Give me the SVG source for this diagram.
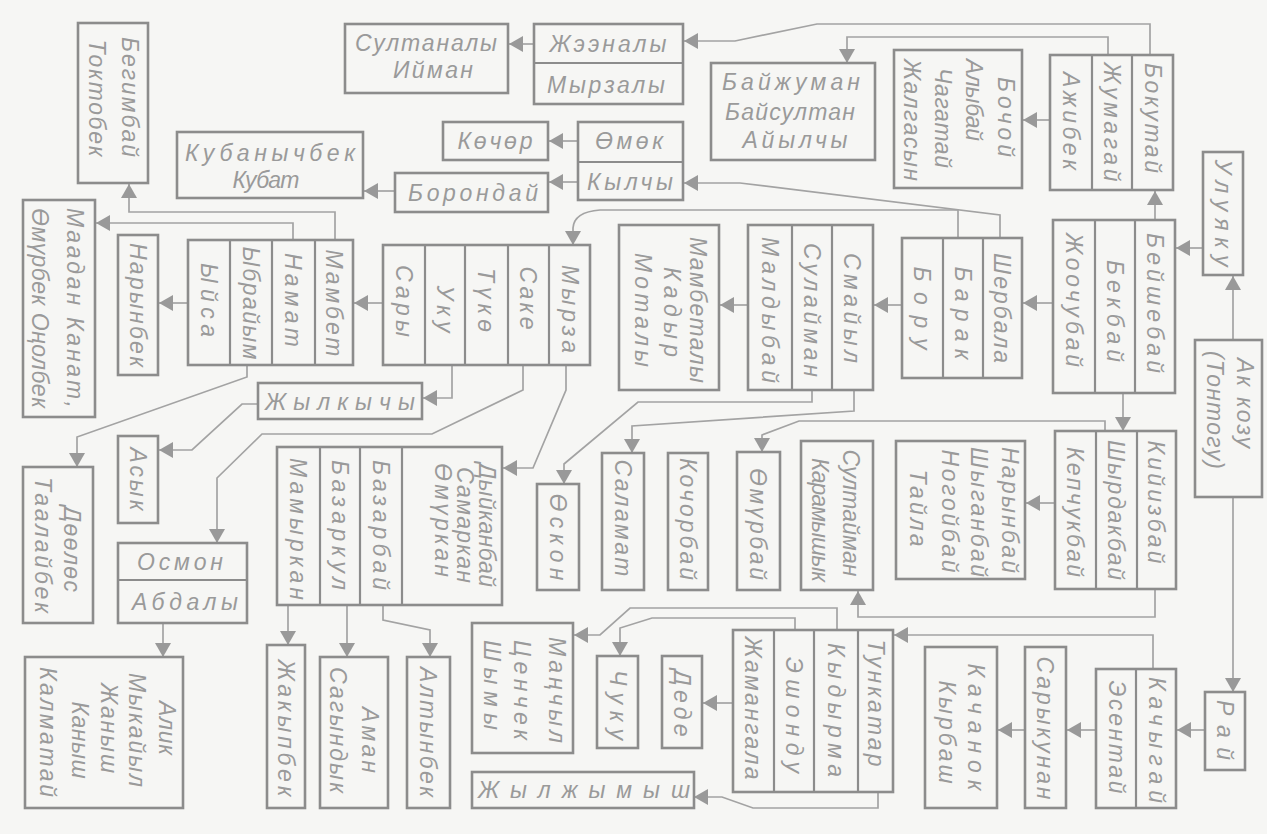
<svg xmlns="http://www.w3.org/2000/svg" width="1267" height="834" viewBox="0 0 1267 834">
<defs>
<marker id="ar" viewBox="0 0 14 16" refX="14" refY="8" markerWidth="14" markerHeight="16" markerUnits="userSpaceOnUse" orient="auto"><path d="M0,0L14,8L0,16z" fill="#999"/></marker>
<style>
.b{fill:none;stroke:#8c8c8c;stroke-width:2.6}
.d{fill:none;stroke:#8c8c8c;stroke-width:2.2}
.c{fill:none;stroke:#a3a3a3;stroke-width:1.7;marker-end:url(#ar)}
text{font-family:"Liberation Sans",Arial,sans-serif;font-style:italic;fill:#9a9a9a;font-size:23px;text-anchor:middle;dominant-baseline:central}
.h{font-size:23px}
</style>
</defs>
<rect width="1267" height="834" fill="#f6f6f4"/>
<g id="connectors">
<path class="c" d="M335,240V212H129V184"/>
<path class="c" d="M293,240V223H96"/>
<path class="c" d="M188,303H159"/>
<path class="c" d="M383,303H354"/>
<path class="c" d="M452,365V398H423"/>
<path class="c" d="M247,365V377L77,437V467"/>
<path class="c" d="M258,404H242L192,450H159"/>
<path class="c" d="M523,365V390L432,434H262L217,478V543"/>
<path class="c" d="M566,365V390L533,468H503"/>
<path class="c" d="M163,623V657"/>
<path class="c" d="M288,605V645"/>
<path class="c" d="M347,605V657"/>
<path class="c" d="M383,605V620L430,630V657"/>
<path class="c" d="M878,792V808H753L722,797H694"/>
<path class="c" d="M837,630V608H630L600,635H574"/>
<path class="c" d="M795,630V618H652L620,628V656"/>
<path class="c" d="M733,703H703"/>
<path class="c" d="M1155,589V617H858V591"/>
<path class="c" d="M1153,669V635H894"/>
<path class="c" d="M1233,497V692"/>
<path class="c" d="M1233,340V276"/>
<path class="c" d="M1203,248H1176"/>
<path class="c" d="M1155,220V191"/>
<path class="c" d="M1123,393V431"/>
<path class="c" d="M1205,730H1177"/>
<path class="c" d="M1096,730H1067"/>
<path class="c" d="M1025,730H998"/>
<path class="c" d="M1055,503H1026"/>
<path class="c" d="M1105,431V421H799L762,435V452"/>
<path class="c" d="M854,390V411L632,426V453"/>
<path class="c" d="M812,390V402H638L564,464V484"/>
<path class="c" d="M1053,303H1023"/>
<path class="c" d="M902,305H874"/>
<path class="c" d="M748,305H720"/>
<path class="c" d="M1000,238V215L740,183H684"/>
<path class="c" d="M958,238V210H600Q574,212 573,228V245"/>
<path class="c" d="M578,182H549"/>
<path class="c" d="M578,141H549"/>
<path class="c" d="M395,191H364"/>
<path class="c" d="M534,44H509"/>
<path class="c" d="M1150,55V24H817L735,41H684"/>
<path class="c" d="M1108,55V37H847V63"/>
<path class="c" d="M1050,120H1023"/>
</g>
<g id="n-begimbai"><rect class="b" x="78" y="23" width="70" height="160"/><text transform="translate(130,97) rotate(90)" textLength="120" lengthAdjust="spacing">Бегимбай</text><text transform="translate(97,98) rotate(90)" textLength="117" lengthAdjust="spacing">Токтобек</text></g>
<g id="n-sultanaly"><rect class="b" x="345" y="24" width="163" height="69"/><text class="h" x="426" y="43" textLength="142" lengthAdjust="spacing">Султаналы</text><text class="h" x="433" y="70" textLength="80" lengthAdjust="spacing">Ийман</text></g>
<g id="n-zheenaly"><rect class="b" x="534" y="24" width="149" height="80"/><line class="d" x1="534" y1="63" x2="683" y2="63"/><text class="h" x="608" y="44" textLength="117" lengthAdjust="spacing">Жээналы</text><text class="h" x="606" y="85" textLength="118" lengthAdjust="spacing">Мырзалы</text></g>
<g id="n-baizhuman"><rect class="b" x="711" y="63" width="164" height="97"/><text class="h" x="791" y="82" textLength="138" lengthAdjust="spacing">Байжуман</text><text class="h" x="790" y="112" textLength="130" lengthAdjust="spacing">Байсултан</text><text class="h" x="795" y="140" textLength="105" lengthAdjust="spacing">Айылчы</text></g>
<g id="n-bochoi"><rect class="b" x="894" y="50" width="128" height="138"/><text transform="translate(1006,117) rotate(90)" textLength="80" lengthAdjust="spacing">Бочой</text><text transform="translate(974,100) rotate(90)" textLength="82" lengthAdjust="spacing">Алыбай</text><text transform="translate(943,118) rotate(90)" textLength="100" lengthAdjust="spacing">Чагатай</text><text transform="translate(912,120) rotate(90)" textLength="122" lengthAdjust="spacing">Жалгасын</text></g>
<g id="n-bokutai"><rect class="b" x="1050" y="55" width="123" height="135"/><line class="d" x1="1092" y1="55" x2="1092" y2="190"/><line class="d" x1="1132" y1="55" x2="1132" y2="190"/><text transform="translate(1153,118) rotate(90)" textLength="110" lengthAdjust="spacing">Бокутай</text><text transform="translate(1112,122) rotate(90)" textLength="119" lengthAdjust="spacing">Жумагай</text><text transform="translate(1071,121) rotate(90)" textLength="98" lengthAdjust="spacing">Ажибек</text></g>
<g id="n-kochor"><rect class="b" x="443" y="122" width="105" height="38"/><text class="h" x="495" y="141" textLength="75" lengthAdjust="spacing">Көчөр</text></g>
<g id="n-omok"><rect class="b" x="578" y="122" width="105" height="78"/><line class="d" x1="578" y1="162" x2="683" y2="162"/><text class="h" x="629" y="141" textLength="68" lengthAdjust="spacing">Өмөк</text><text class="h" x="630" y="182" textLength="86" lengthAdjust="spacing">Кылчы</text></g>
<g id="n-borondai"><rect class="b" x="395" y="173" width="153" height="39"/><text class="h" x="473" y="193" textLength="130" lengthAdjust="spacing">Борондай</text></g>
<g id="n-kubanychbek"><rect class="b" x="177" y="132" width="186" height="66"/><text class="h" x="270" y="153" textLength="170" lengthAdjust="spacing">Кубанычбек</text><text class="h" x="266" y="180" textLength="67" lengthAdjust="spacing">Кубат</text></g>
<g id="n-uluyaku"><rect class="b" x="1203" y="152" width="40" height="123"/><text transform="translate(1223,213) rotate(90)" textLength="107" lengthAdjust="spacing">Улуяку</text></g>
<g id="n-akkozu"><rect class="b" x="1195" y="340" width="67" height="157"/><text transform="translate(1245,403) rotate(90)" textLength="90" lengthAdjust="spacing">Ак козу</text><text transform="translate(1215,410) rotate(90)" textLength="118" lengthAdjust="spacing">(Тонтогу)</text></g>
<g id="n-beishebai"><rect class="b" x="1053" y="220" width="122" height="173"/><line class="d" x1="1095" y1="220" x2="1095" y2="393"/><line class="d" x1="1135" y1="220" x2="1135" y2="393"/><text transform="translate(1155,303) rotate(90)" textLength="140" lengthAdjust="spacing">Бейшебай</text><text transform="translate(1115,311) rotate(90)" textLength="102" lengthAdjust="spacing">Бекбай</text><text transform="translate(1074,300) rotate(90)" textLength="134" lengthAdjust="spacing">Жоочубай</text></g>
<g id="n-sherbala"><rect class="b" x="902" y="238" width="120" height="140"/><line class="d" x1="943" y1="238" x2="943" y2="378"/><line class="d" x1="983" y1="238" x2="983" y2="378"/><text transform="translate(1002,308) rotate(90)" textLength="110" lengthAdjust="spacing">Шербала</text><text transform="translate(963,313) rotate(90)" textLength="93" lengthAdjust="spacing">Барак</text><text transform="translate(922,308) rotate(90)" textLength="83" lengthAdjust="spacing">Бору</text></g>
<g id="n-smaiyl"><rect class="b" x="748" y="225" width="125" height="165"/><line class="d" x1="792" y1="225" x2="792" y2="390"/><line class="d" x1="832" y1="225" x2="832" y2="390"/><text transform="translate(852,308) rotate(90)" textLength="110" lengthAdjust="spacing">Смайыл</text><text transform="translate(812,310) rotate(90)" textLength="134" lengthAdjust="spacing">Сулайман</text><text transform="translate(770,310) rotate(90)" textLength="146" lengthAdjust="spacing">Малдыбай</text></g>
<g id="n-mambetaly"><rect class="b" x="619" y="225" width="100" height="165"/><text transform="translate(698,310) rotate(90)" textLength="146" lengthAdjust="spacing">Мамбеталы</text><text transform="translate(672,312) rotate(90)" textLength="90" lengthAdjust="spacing">Кадыр</text><text transform="translate(643,310) rotate(90)" textLength="114" lengthAdjust="spacing">Моталы</text></g>
<g id="n-myrza"><rect class="b" x="383" y="245" width="207" height="120"/><line class="d" x1="425" y1="245" x2="425" y2="365"/><line class="d" x1="465" y1="245" x2="465" y2="365"/><line class="d" x1="508" y1="245" x2="508" y2="365"/><line class="d" x1="549" y1="245" x2="549" y2="365"/><text transform="translate(570,309) rotate(90)" textLength="88" lengthAdjust="spacing">Мырза</text><text transform="translate(528,298) rotate(90)" textLength="63" lengthAdjust="spacing">Саке</text><text transform="translate(486,300) rotate(90)" textLength="64" lengthAdjust="spacing">Түкө</text><text transform="translate(445,309) rotate(90)" textLength="47" lengthAdjust="spacing">Уку</text><text transform="translate(404,301) rotate(90)" textLength="72" lengthAdjust="spacing">Сары</text></g>
<g id="n-mambet"><rect class="b" x="188" y="240" width="165" height="125"/><line class="d" x1="230" y1="240" x2="230" y2="365"/><line class="d" x1="272" y1="240" x2="272" y2="365"/><line class="d" x1="315" y1="240" x2="315" y2="365"/><text transform="translate(334,303) rotate(90)" textLength="107" lengthAdjust="spacing">Мамбет</text><text transform="translate(293,300) rotate(90)" textLength="94" lengthAdjust="spacing">Намат</text><text transform="translate(251,303) rotate(90)" textLength="113" lengthAdjust="spacing">Ыбрайым</text><text transform="translate(209,300) rotate(90)" textLength="74" lengthAdjust="spacing">Ыйса</text></g>
<g id="n-narynbek"><rect class="b" x="118" y="235" width="40" height="140"/><text transform="translate(138,305) rotate(90)" textLength="124" lengthAdjust="spacing">Нарынбек</text></g>
<g id="n-maadan"><rect class="b" x="23" y="200" width="72" height="217"/><text transform="translate(75,308) rotate(90)" textLength="200" lengthAdjust="spacing">Маадан Канат,</text><text transform="translate(40,308) rotate(90)" textLength="200" lengthAdjust="spacing">Өмүрбек Оңолбек</text></g>
<g id="n-zhylkychy"><rect class="b" x="258" y="383" width="164" height="36"/><text class="h" x="340" y="402" textLength="150" lengthAdjust="spacing">Жылкычы</text></g>
<g id="n-asyk"><rect class="b" x="118" y="436" width="40" height="87"/><text transform="translate(138,479) rotate(90)" textLength="63" lengthAdjust="spacing">Асык</text></g>
<g id="n-doolos"><rect class="b" x="23" y="467" width="70" height="156"/><text transform="translate(72,549) rotate(90)" textLength="86" lengthAdjust="spacing">Дөөлөс</text><text transform="translate(43,545) rotate(90)" textLength="136" lengthAdjust="spacing">Таалайбек</text></g>
<g id="n-osmon"><rect class="b" x="118" y="543" width="129" height="80"/><line class="d" x1="118" y1="580" x2="247" y2="580"/><text class="h" x="180" y="562" textLength="86" lengthAdjust="spacing">Осмон</text><text class="h" x="185" y="602" textLength="106" lengthAdjust="spacing">Абдалы</text></g>
<g id="n-alik"><rect class="b" x="25" y="657" width="158" height="151"/><text transform="translate(167,728) rotate(90)" textLength="54" lengthAdjust="spacing">Алик</text><text transform="translate(137,730) rotate(90)" textLength="114" lengthAdjust="spacing">Мыкайыл</text><text transform="translate(109,728) rotate(90)" textLength="90" lengthAdjust="spacing">Жаныш</text><text transform="translate(80,740) rotate(90)" textLength="77" lengthAdjust="spacing">Каныш</text><text transform="translate(48,732) rotate(90)" textLength="130" lengthAdjust="spacing">Калматай</text></g>
<g id="n-dyikanbai"><rect class="b" x="277" y="447" width="225" height="158"/><line class="d" x1="320" y1="447" x2="320" y2="605"/><line class="d" x1="360" y1="447" x2="360" y2="605"/><line class="d" x1="402" y1="447" x2="402" y2="605"/><text transform="translate(487,525) rotate(90)" textLength="124" lengthAdjust="spacing">Дыйканбай</text><text transform="translate(465,525) rotate(90)" textLength="116" lengthAdjust="spacing">Самаркан</text><text transform="translate(443,520) rotate(90)" textLength="114" lengthAdjust="spacing">Өмүркан</text><text transform="translate(381,525) rotate(90)" textLength="130" lengthAdjust="spacing">Базарбай</text><text transform="translate(340,525) rotate(90)" textLength="130" lengthAdjust="spacing">Базаркул</text><text transform="translate(298,529) rotate(90)" textLength="142" lengthAdjust="spacing">Мамыркан</text></g>
<g id="n-zhakypbek"><rect class="b" x="267" y="645" width="38" height="163"/><text transform="translate(286,728) rotate(90)" textLength="137" lengthAdjust="spacing">Жакыпбек</text></g>
<g id="n-aman"><rect class="b" x="320" y="657" width="68" height="151"/><text transform="translate(370,740) rotate(90)" textLength="66" lengthAdjust="spacing">Аман</text><text transform="translate(338,730) rotate(90)" textLength="126" lengthAdjust="spacing">Сагындык</text></g>
<g id="n-altynbek"><rect class="b" x="407" y="657" width="43" height="151"/><text transform="translate(428,732) rotate(90)" textLength="130" lengthAdjust="spacing">Алтынбек</text></g>
<g id="n-manchyl"><rect class="b" x="472" y="623" width="101" height="130"/><text transform="translate(557,690) rotate(90)" textLength="106" lengthAdjust="spacing">Маңчыл</text><text transform="translate(522,690) rotate(90)" textLength="100" lengthAdjust="spacing">Ценчек</text><text transform="translate(492,685) rotate(90)" textLength="90" lengthAdjust="spacing">Шымы</text></g>
<g id="n-zhylzhymysh"><rect class="b" x="472" y="772" width="222" height="36"/><text class="h" x="584" y="790" textLength="212" lengthAdjust="spacing">Жылжымыш</text></g>
<g id="n-tunkatar"><rect class="b" x="733" y="630" width="160" height="162"/><line class="d" x1="774" y1="630" x2="774" y2="792"/><line class="d" x1="814" y1="630" x2="814" y2="792"/><line class="d" x1="858" y1="630" x2="858" y2="792"/><text transform="translate(876,703) rotate(90)" textLength="127" lengthAdjust="spacing">Тункатар</text><text transform="translate(836,710) rotate(90)" textLength="134" lengthAdjust="spacing">Кыдырма</text><text transform="translate(794,715) rotate(90)" textLength="116" lengthAdjust="spacing">Эшонду</text><text transform="translate(753,708) rotate(90)" textLength="143" lengthAdjust="spacing">Жамангала</text></g>
<g id="n-dede"><rect class="b" x="662" y="656" width="40" height="92"/><text transform="translate(682,703) rotate(90)" textLength="67" lengthAdjust="spacing">Деде</text></g>
<g id="n-chuku"><rect class="b" x="597" y="656" width="41" height="92"/><text transform="translate(618,705) rotate(90)" textLength="70" lengthAdjust="spacing">Чуку</text></g>
<g id="n-oskon"><rect class="b" x="537" y="484" width="42" height="106"/><text transform="translate(558,537) rotate(90)" textLength="87" lengthAdjust="spacing">Өскон</text></g>
<g id="n-salamat"><rect class="b" x="602" y="453" width="42" height="137"/><text transform="translate(623,518) rotate(90)" textLength="117" lengthAdjust="spacing">Саламат</text></g>
<g id="n-kochorbai"><rect class="b" x="668" y="453" width="40" height="137"/><text transform="translate(688,519) rotate(90)" textLength="122" lengthAdjust="spacing">Кочорбай</text></g>
<g id="n-omurbai"><rect class="b" x="737" y="452" width="43" height="138"/><text transform="translate(758,524) rotate(90)" textLength="112" lengthAdjust="spacing">Өмүрбай</text></g>
<g id="n-sulaiman2"><rect class="b" x="801" y="441" width="72" height="149"/><text transform="translate(851,513) rotate(90)" textLength="127" lengthAdjust="spacing">Султайман</text><text transform="translate(820,520) rotate(90)" textLength="124" lengthAdjust="spacing">Карамышык</text></g>
<g id="n-narynbai"><rect class="b" x="896" y="441" width="129" height="138"/><text transform="translate(1010,510) rotate(90)" textLength="126" lengthAdjust="spacing">Нарынбай</text><text transform="translate(979,512) rotate(90)" textLength="130" lengthAdjust="spacing">Шыганбай</text><text transform="translate(950,511) rotate(90)" textLength="123" lengthAdjust="spacing">Ногойбай</text><text transform="translate(918,508) rotate(90)" textLength="77" lengthAdjust="spacing">Тайла</text></g>
<g id="n-kiyizbai"><rect class="b" x="1055" y="431" width="121" height="158"/><line class="d" x1="1096" y1="431" x2="1096" y2="589"/><line class="d" x1="1137" y1="431" x2="1137" y2="589"/><text transform="translate(1156,502) rotate(90)" textLength="123" lengthAdjust="spacing">Кийизбай</text><text transform="translate(1116,510) rotate(90)" textLength="140" lengthAdjust="spacing">Шырдакбай</text><text transform="translate(1075,512) rotate(90)" textLength="130" lengthAdjust="spacing">Кепчукбай</text></g>
<g id="n-rai"><rect class="b" x="1205" y="692" width="40" height="78"/><text transform="translate(1225,730) rotate(90)" textLength="60" lengthAdjust="spacing">Рай</text></g>
<g id="n-kachygai"><rect class="b" x="1096" y="669" width="80" height="139"/><line class="d" x1="1136" y1="669" x2="1136" y2="808"/><text transform="translate(1157,740) rotate(90)" textLength="126" lengthAdjust="spacing">Качыгай</text><text transform="translate(1117,737) rotate(90)" textLength="113" lengthAdjust="spacing">Эсентай</text></g>
<g id="n-sarykunan"><rect class="b" x="1025" y="647" width="41" height="161"/><text transform="translate(1045,728) rotate(90)" textLength="143" lengthAdjust="spacing">Сарыкунан</text></g>
<g id="n-kachanok"><rect class="b" x="925" y="647" width="72" height="161"/><text transform="translate(976,727) rotate(90)" textLength="127" lengthAdjust="spacing">Качанок</text><text transform="translate(947,732) rotate(90)" textLength="103" lengthAdjust="spacing">Кырбаш</text></g>
</svg>
